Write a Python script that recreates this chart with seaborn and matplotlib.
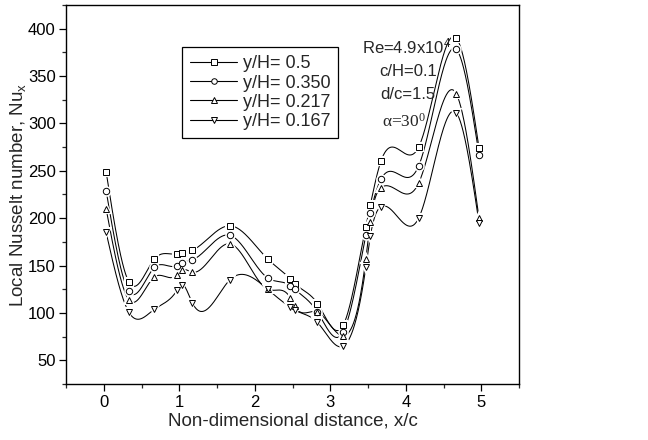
import numpy as np
import pandas as pd
import matplotlib
matplotlib.use("Agg")
import matplotlib.pyplot as plt
from matplotlib.lines import Line2D
import seaborn as sns

# ---- data ----
x_pos = [0.03, 0.33, 0.67, 0.97, 1.03, 1.17, 1.67, 2.17, 2.47, 2.53,
         2.83, 3.17, 3.47, 3.53, 3.67, 4.17, 4.67, 4.97]
nu_050 = [249, 133, 157, 162, 163, 166, 192, 157, 136, 131,
          110, 87, 191, 214, 260, 275, 390, 274]
nu_0350 = [229, 123, 148, 150, 153, 156, 182, 137, 129, 125,
           101, 80, 182, 205, 241, 255, 378, 267]
nu_0217 = [210, 114, 138, 140, 145, 143, 173, 125, 116, 107,
           101, 76, 157, 196, 232, 237, 331, 200]
nu_0167 = [185, 101, 104, 124, 130, 111, 135, 125, 106, 103,
           90, 65, 148, 181, 212, 200, 311, 195]
labels = ["y/H= 0.5", "y/H= 0.350", "y/H= 0.217", "y/H= 0.167"]
markers = ["s", "o", "^", "v"]
series = [nu_050, nu_0350, nu_0217, nu_0167]


def natural_spline(x, y, xs):
    x = np.asarray(x, float)
    y = np.asarray(y, float)
    n = len(x)
    h = np.diff(x)
    A = np.zeros((n, n))
    b = np.zeros(n)
    A[0, 0] = 1
    A[-1, -1] = 1
    for i in range(1, n - 1):
        A[i, i - 1] = h[i - 1]
        A[i, i] = 2 * (h[i - 1] + h[i])
        A[i, i + 1] = h[i]
        b[i] = 3 * ((y[i + 1] - y[i]) / h[i] - (y[i] - y[i - 1]) / h[i - 1])
    c = np.linalg.solve(A, b)
    bb = (y[1:] - y[:-1]) / h - h * (2 * c[:-1] + c[1:]) / 3
    d = (c[1:] - c[:-1]) / (3 * h)
    idx = np.clip(np.searchsorted(x, xs) - 1, 0, n - 2)
    dx = xs - x[idx]
    return y[idx] + bb[idx] * dx + c[idx] * dx ** 2 + d[idx] * dx ** 3


sns.set_style("ticks")
plt.rcParams["font.family"] = ["Liberation Sans", "DejaVu Sans"]
plt.rcParams["mathtext.default"] = "regular"

fig = plt.figure(figsize=(6.48, 4.40), dpi=100)
ax = fig.add_axes([0.102, 0.127, 0.699, 0.862])

for vals, lab in zip(series, labels):
    xs = np.linspace(x_pos[0], x_pos[-1], 800)
    ys = natural_spline(x_pos, vals, xs)
    df = pd.DataFrame({"x": xs, "y": ys})
    sns.lineplot(data=df, x="x", y="y", ax=ax, color="black", lw=0.75,
                 sort=False, estimator=None, legend=False, zorder=2)

for vals, m in zip(series, markers):
    ax.plot(x_pos, vals, ls="none", marker=m, ms=4.6, mfc="white",
            mec="white", mew=3.0, zorder=3)
    ax.plot(x_pos, vals, ls="none", marker=m, ms=4.6, mfc="white",
            mec="black", mew=0.7, zorder=4)

ax.set_xlim(-0.5, 5.5)
ax.set_ylim(25, 425)
ax.set_xticks([0, 1, 2, 3, 4, 5])
ax.set_xticks(np.arange(-0.5, 5.51, 0.5), minor=True)
ax.set_yticks(np.arange(50, 401, 50))
ax.set_yticks(np.arange(25, 426, 25), minor=True)
ax.tick_params(which="major", direction="out", length=5, width=0.9,
               labelsize=12, colors="black", pad=2.5)
ax.tick_params(which="minor", direction="out", length=3, width=0.9)
for s in ax.spines.values():
    s.set_linewidth(1.0)
    s.set_color("black")

ax.set_xlabel("Non-dimensional distance, x/c", fontsize=13.5, labelpad=2)
ax.set_ylabel("Local Nusselt number, Nu$_x$", fontsize=13.5)
ax.yaxis.set_label_coords(-0.084, 0.5)

handles = [Line2D([], [], color="black", lw=0.8, marker=m, ms=4, mfc="white",
                  mec="black", mew=0.7) for m in markers]
leg = ax.legend(handles, labels, loc="upper left",
                bbox_to_anchor=(0.236, 0.912), fontsize=13, frameon=True,
                fancybox=False, edgecolor="black", framealpha=1,
                handlelength=2.6, handletextpad=0.3, labelspacing=0.12,
                borderpad=0.45, numpoints=1)
leg.get_frame().set_linewidth(0.9)

ax.text(4.01, 381, "Re=4.9x10$^4$", ha="center", va="center", fontsize=12)
ax.text(4.03, 355, "c/H=0.1", ha="center", va="center", fontsize=12)
ax.text(4.03, 330, "d/c=1.5", ha="center", va="center", fontsize=12)
ax.text(3.98, 302, "α=30$^0$", ha="center", va="center", fontsize=12.5,
        family=["Liberation Serif", "DejaVu Serif"])

fig.savefig("out.png", dpi=100)
